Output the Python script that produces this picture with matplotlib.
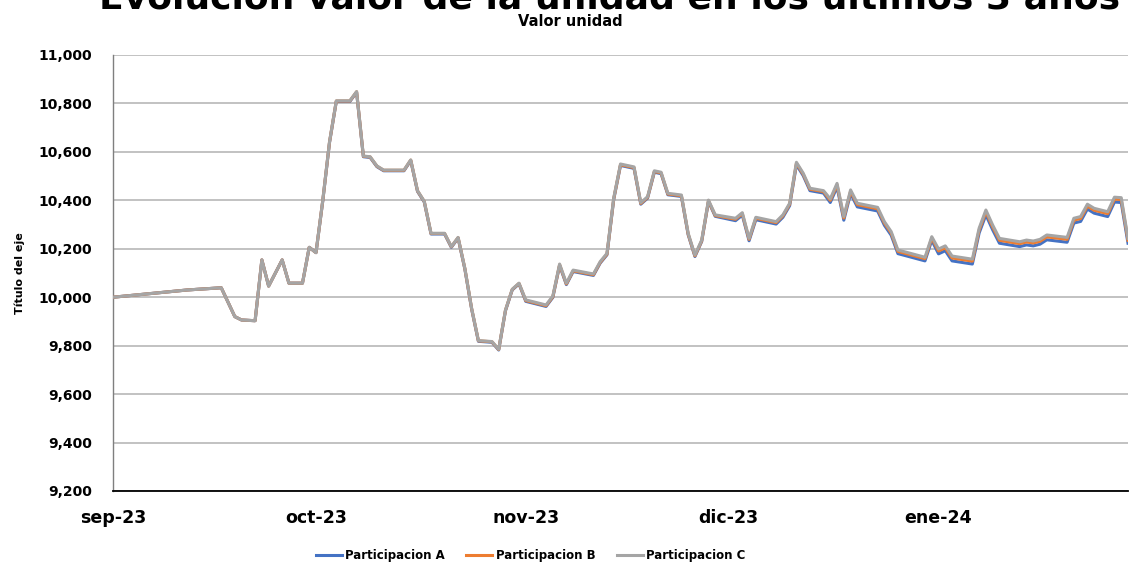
import matplotlib
matplotlib.use("Agg")
import matplotlib.pyplot as plt
import matplotlib.ticker as ticker
import pandas as pd

# days since 2023-09-01
days = [0, 11, 16, 18, 19, 21, 22, 23, 25, 26, 28, 29, 30,
        31, 32, 33, 35, 36, 37, 38, 39, 40, 43, 44, 45, 46, 47, 49, 50,
        51, 52, 53, 54, 56, 57, 58, 59, 60,
        61, 64, 65, 66, 67, 68, 71, 72, 73, 74, 75, 77, 78, 79, 80, 81,
        82, 84, 85, 86, 87, 88, 89,
        92, 93, 94, 95, 98, 99, 100, 101, 102, 103, 105,
        106, 107, 108, 109, 110, 113, 114, 115, 116, 120, 121,
        122, 123, 124, 127, 128, 129, 130, 131, 134, 135, 136, 137, 138,
        141, 142, 143, 144, 145, 147, 148, 149, 150]

part_c = [10000, 10030, 10039, 9920, 9906, 9903, 10154, 10046, 10154, 10058, 10058, 10206, 10184,
          10400, 10642, 10811, 10811, 10849, 10583, 10580, 10542, 10525, 10525, 10567, 10440, 10396, 10264, 10264, 10209,
          10247, 10119, 9954, 9821, 9817, 9785, 9947, 10033, 10058,
          9989, 9968, 10005, 10137, 10058, 10112, 10096, 10147, 10181, 10410, 10550, 10538, 10390, 10415, 10522, 10516,
          10429, 10422, 10264, 10174, 10236, 10401, 10340,
          10326, 10349, 10243, 10330, 10312, 10340, 10388, 10557, 10512, 10450, 10440,
          10406, 10470, 10333, 10443, 10388, 10371, 10312, 10271, 10195, 10165, 10250,
          10199, 10212, 10170, 10157, 10285, 10360, 10298, 10243, 10229, 10236, 10232, 10239, 10257,
          10247, 10326, 10333, 10384, 10367, 10353, 10413, 10411, 10243]

part_b = [10000, 10030, 10039, 9920, 9906, 9903, 10154, 10046, 10154, 10058, 10058, 10206, 10184,
          10399, 10641, 10810, 10810, 10848, 10582, 10579, 10541, 10524, 10524, 10566, 10439, 10395, 10263, 10263, 10208,
          10246, 10118, 9953, 9820, 9816, 9784, 9946, 10032, 10057,
          9986, 9965, 10002, 10134, 10055, 10109, 10093, 10144, 10178, 10407, 10547, 10535, 10387, 10412, 10519, 10513,
          10426, 10419, 10261, 10171, 10233, 10398, 10337,
          10322, 10345, 10239, 10326, 10308, 10336, 10384, 10553, 10508, 10446, 10436,
          10400, 10464, 10327, 10437, 10382, 10365, 10306, 10265, 10189, 10159, 10244,
          10191, 10204, 10162, 10149, 10277, 10352, 10290, 10235, 10221, 10228, 10224, 10231, 10249,
          10239, 10318, 10325, 10376, 10359, 10345, 10405, 10403, 10235]

part_a = [10000, 10030, 10039, 9920, 9906, 9903, 10154, 10046, 10154, 10058, 10058, 10206, 10184,
          10397, 10639, 10808, 10808, 10846, 10580, 10577, 10539, 10522, 10522, 10564, 10437, 10393, 10261, 10261, 10206,
          10244, 10116, 9951, 9818, 9814, 9782, 9944, 10030, 10055,
          9983, 9962, 9999, 10131, 10052, 10106, 10090, 10141, 10175, 10404, 10544, 10532, 10384, 10409, 10516, 10510,
          10423, 10416, 10258, 10168, 10230, 10395, 10334,
          10316, 10339, 10233, 10320, 10302, 10330, 10378, 10547, 10502, 10440, 10430,
          10391, 10455, 10318, 10428, 10373, 10356, 10297, 10256, 10180, 10150, 10235,
          10179, 10192, 10150, 10137, 10265, 10340, 10278, 10223, 10209, 10216, 10212, 10219, 10237,
          10227, 10306, 10313, 10364, 10347, 10333, 10393, 10391, 10223]

month_starts = ["2023-09-01", "2023-10-01", "2023-11-01", "2023-12-01", "2024-01-01"]
month_labels = ["sep-23", "oct-23", "nov-23", "dic-23", "ene-24"]

dates = pd.Timestamp("2023-09-01") + pd.to_timedelta(days, unit="D")

fig = plt.figure(figsize=(11.29, 5.63), dpi=100)
ax = fig.add_axes([113 / 1129, 1 - 491 / 563, (1128 - 113) / 1129, (491 - 55) / 563])

ax.plot(dates, part_a, color="#4472C4", lw=2.2, label="Participacion A", zorder=3)
ax.plot(dates, part_b, color="#ED7D31", lw=2.2, label="Participacion B", zorder=4)
ax.plot(dates, part_c, color="#A5A5A5", lw=2.2, label="Participacion C", zorder=5)

ax.set_xlim(dates[0], dates[-1])
ax.set_ylim(9200, 11000)
ax.yaxis.set_major_locator(ticker.MultipleLocator(200))
ax.yaxis.set_major_formatter(ticker.FuncFormatter(lambda v, p: f"{v:,.0f}"))
ax.set_xticks(pd.to_datetime(month_starts))
ax.set_xticklabels(month_labels)

ax.grid(axis="y", color="#B8B8B8", lw=1.2)
ax.set_axisbelow(True)
for s in ["top", "right"]:
    ax.spines[s].set_visible(False)
ax.spines["left"].set_color("#7F7F7F")
ax.spines["left"].set_linewidth(1.0)
ax.spines["bottom"].set_color("black")
ax.spines["bottom"].set_linewidth(1.3)

ax.tick_params(axis="y", length=0, pad=15, labelsize=10)
ax.tick_params(axis="x", length=0, pad=13, labelsize=12.5)
for lbl in ax.get_xticklabels() + ax.get_yticklabels():
    lbl.set_fontweight("bold")

ax.set_ylabel("Título del eje", fontsize=8, fontweight="bold", labelpad=10)

fig.text(0.540, 1 - 10 / 563, "Evolución valor de la unidad en los últimos 3 años",
         ha="center", va="baseline", fontsize=26, fontweight="bold")
fig.text(0.505, 1 - 22 / 563, "Valor unidad", ha="center", va="center",
         fontsize=10.5, fontweight="bold")

fig.legend(loc="center", bbox_to_anchor=(0.470, 1 - 556 / 563), ncol=3, frameon=False,
           prop={"size": 8.5, "weight": "bold"}, handlelength=2.2, handletextpad=0.3,
           columnspacing=1.8)

fig.savefig("out.png", dpi=100)
